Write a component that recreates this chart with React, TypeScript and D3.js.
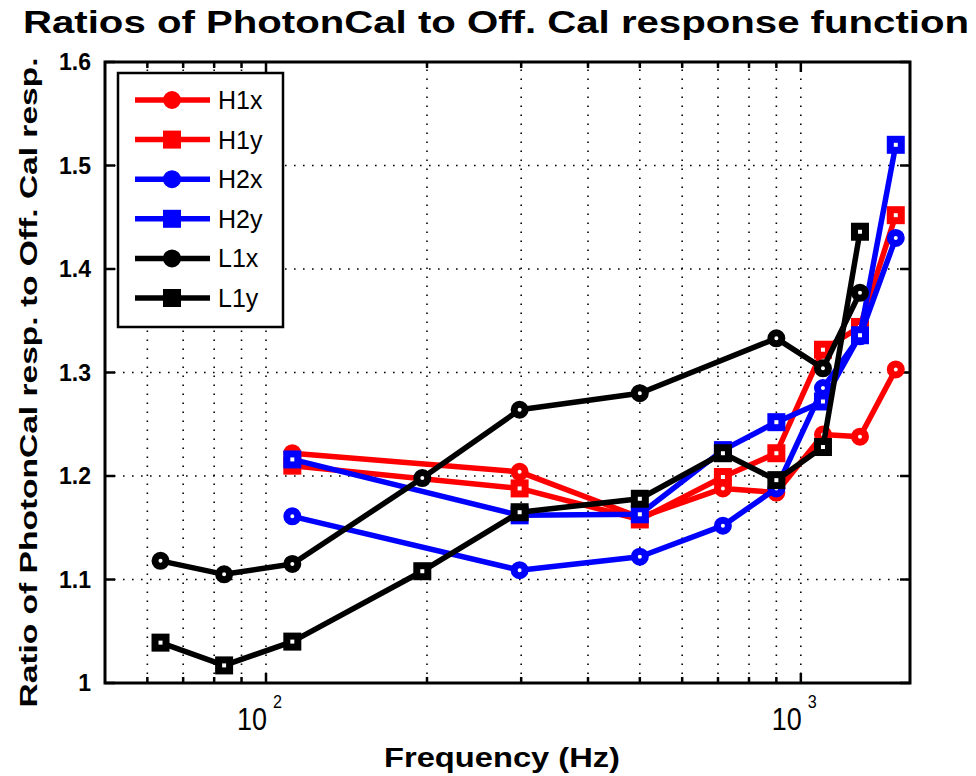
import React from 'react';
import * as d3 from 'd3';

// Frequencies (Hz) of the calibration lines
const hFreqs = [112, 298, 500, 715, 900, 1100, 1290, 1505];
const l1xFreqs = [63.5, 83.5, 112, 196, 298, 500, 900, 1100, 1290];
const l1yFreqs = [63.5, 83.5, 112, 196, 298, 500, 715, 900, 1100, 1290];

// Ratio values
const h1x = [1.222, 1.204, 1.16, 1.188, 1.184, 1.24, 1.238, 1.303];
const h1y = [1.21, 1.188, 1.158, 1.199, 1.222, 1.322, 1.344, 1.452];
const h2x = [1.161, 1.109, 1.122, 1.152, 1.188, 1.285, 1.335, 1.43];
const h2y = [1.216, 1.162, 1.163, 1.225, 1.252, 1.272, 1.336, 1.52];
const l1x = [1.118, 1.105, 1.115, 1.198, 1.264, 1.28, 1.333, 1.304, 1.377];
const l1y = [1.039, 1.017, 1.04, 1.108, 1.165, 1.178, 1.222, 1.196, 1.228, 1.436];

const yTicks = [1, 1.1, 1.2, 1.3, 1.4, 1.5, 1.6];
const xMajor = [100, 1000];
const xMinor = [60, 70, 80, 90, 200, 300, 400, 500, 600, 700, 800, 900];

const series = [
  { name: 'H1x', color: '#ff0000', marker: 'circle', freqs: hFreqs, vals: h1x },
  { name: 'H1y', color: '#ff0000', marker: 'square', freqs: hFreqs, vals: h1y },
  { name: 'H2x', color: '#0000ff', marker: 'circle', freqs: hFreqs, vals: h2x },
  { name: 'H2y', color: '#0000ff', marker: 'square', freqs: hFreqs, vals: h2y },
  { name: 'L1x', color: '#000000', marker: 'circle', freqs: l1xFreqs, vals: l1x },
  { name: 'L1y', color: '#000000', marker: 'square', freqs: l1yFreqs, vals: l1y },
];

const W = 976;
const H = 776;
const margin = { left: 105, right: 66, top: 62, bottom: 93 };
const font = 'Liberation Sans, Arial, Helvetica, sans-serif';

const App = () => {
  const x = d3.scaleLog().domain([50, 1600]).range([margin.left, W - margin.right]);
  const y = d3.scaleLinear().domain([1, 1.6]).range([H - margin.bottom, margin.top]);
  const [x0, x1] = x.range();
  const [y0, y1] = y.range();

  const line = d3.line<[number, number]>()
    .x(d => x(d[0]))
    .y(d => y(d[1]));

  const marker = (kind: string, cx: number, cy: number, color: string, fill: string, key: string | number) =>
    kind === 'circle'
      ? <circle key={key} cx={cx} cy={cy} r={5.5} fill={fill} stroke={color} strokeWidth={7} />
      : <rect key={key} x={cx - 5.5} y={cy - 5.5} width={11} height={11} fill={fill} stroke={color} strokeWidth={7} />;

  return (
    <svg width={W} height={H} style={{ position: 'absolute', left: 0, top: 0, background: '#fff' }}>
      {/* grid */}
      <g stroke="#000" strokeWidth={1.6} strokeDasharray="1.6,7.4">
        {[...xMinor, ...xMajor].map(v => (
          <line key={'gx' + v} x1={x(v)} x2={x(v)} y1={y0} y2={y1} />
        ))}
        {yTicks.slice(1, -1).map(v => (
          <line key={'gy' + v} x1={x0} x2={x1} y1={y(v)} y2={y(v)} />
        ))}
      </g>

      {/* ticks (inside, all four sides) */}
      <g stroke="#000" strokeWidth={2.5}>
        {xMajor.map(v => (
          <g key={'tM' + v}>
            <line x1={x(v)} x2={x(v)} y1={y0} y2={y0 - 10} />
            <line x1={x(v)} x2={x(v)} y1={y1} y2={y1 + 10} />
          </g>
        ))}
        {xMinor.map(v => (
          <g key={'tm' + v}>
            <line x1={x(v)} x2={x(v)} y1={y0} y2={y0 - 6} />
            <line x1={x(v)} x2={x(v)} y1={y1} y2={y1 + 6} />
          </g>
        ))}
        {yTicks.map(v => (
          <g key={'ty' + v}>
            <line x1={x0} x2={x0 + 10} y1={y(v)} y2={y(v)} />
            <line x1={x1} x2={x1 - 10} y1={y(v)} y2={y(v)} />
          </g>
        ))}
      </g>

      {/* series */}
      {series.map(s => {
        const pts = s.freqs.map((f, i) => [f, s.vals[i]] as [number, number]);
        return (
          <g key={s.name}>
            <path d={line(pts) || ''} fill="none" stroke={s.color} strokeWidth={5.5} strokeLinejoin="round" />
            {pts.map((p, i) => marker(s.marker, x(p[0]), y(p[1]), s.color, '#fff', i))}
          </g>
        );
      })}

      {/* frame */}
      <rect x={x0} y={y1} width={x1 - x0} height={y0 - y1} fill="none" stroke="#000" strokeWidth={3} />

      {/* y tick labels */}
      <g fontFamily={font} fontWeight="bold" fontSize={23} textAnchor="end">
        {yTicks.map(v => (
          <text key={'yl' + v} x={x0 - 14} y={y(v) + 8}>{d3.format('~g')(v)}</text>
        ))}
      </g>

      {/* x tick labels */}
      <g fontFamily={font}>
        {xMajor.map(v => (
          <g key={'xl' + v}>
            <text x={x(v) - 14} y={y0 + 47} fontSize={32} textAnchor="middle"
              textLength={30} lengthAdjust="spacingAndGlyphs">10</text>
            <text x={x(v) + 7} y={y0 + 25} fontSize={19} textLength={9} lengthAdjust="spacingAndGlyphs">
              {Math.round(Math.log10(v))}
            </text>
          </g>
        ))}
      </g>

      {/* legend */}
      <g>
        <rect x={118} y={73} width={165} height={254} fill="#fff" stroke="#000" strokeWidth={2.5} />
        {series.map((s, i) => {
          const ly = 100 + i * 39.6;
          return (
            <g key={'lg' + s.name}>
              <line x1={135} x2={210} y1={ly} y2={ly} stroke={s.color} strokeWidth={5.5} />
              {marker(s.marker, 172, ly, s.color, s.color, 'm')}
              <text x={218} y={ly + 9} fontFamily={font} fontSize={25}>{s.name}</text>
            </g>
          );
        })}
      </g>

      {/* title and axis labels */}
      <text x={496} y={33} textAnchor="middle" fontFamily={font} fontWeight="bold" fontSize={31}
        textLength={946} lengthAdjust="spacingAndGlyphs">
        Ratios of PhotonCal to Off. Cal response function
      </text>
      <text x={502} y={767} textAnchor="middle" fontFamily={font} fontWeight="bold" fontSize={28}
        textLength={236} lengthAdjust="spacingAndGlyphs">
        Frequency (Hz)
      </text>
      <text transform={`translate(37, ${(y0 + y1) / 2 + 10}) rotate(-90)`} textAnchor="middle"
        fontFamily={font} fontWeight="bold" fontSize={24} textLength={650} lengthAdjust="spacingAndGlyphs">
        Ratio of PhotonCal resp. to Off. Cal resp.
      </text>
    </svg>
  );
};

export default App;
